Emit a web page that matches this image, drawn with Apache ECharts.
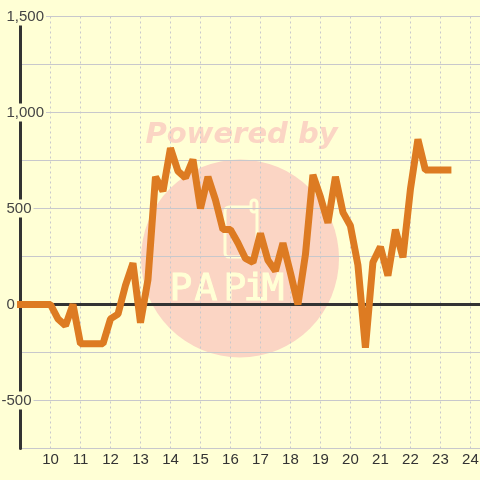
<!DOCTYPE html>
<html>
<head>
<meta charset="utf-8">
<style>html,body{margin:0;padding:0;background:#ffffd5}#main{width:480px;height:480px}</style>
<script src="https://cdn.jsdelivr.net/npm/echarts@6/dist/echarts.min.js"></script>
</head>
<body>
<div id="main"></div>
<script>
var bg = '#ffffd5';
var hours = [9,9.25,9.5,9.75,10,10.25,10.5,10.75,11,11.25,11.5,11.75,12,12.25,12.5,12.75,13,13.25,13.5,13.75,
  14,14.25,14.5,14.75,15,15.25,15.5,15.75,16,16.25,16.5,16.75,17,17.25,17.5,17.75,18,18.25,18.5,18.75,
  19,19.25,19.5,19.75,20,20.25,20.5,20.75,21,21.25,21.5,21.75,22,22.25,22.5,22.75,23,23.25];
var values = [0,0,0,0,0,-75,-110,0,-205,-205,-205,-205,-75,-50,100,215,-95,130,665,590,
  815,695,660,755,500,665,545,390,390,320,240,220,370,230,175,320,165,0,260,675,
  560,425,665,480,410,205,-225,220,300,150,390,245,600,860,700,700,700,700];
var xTicks = [10,11,12,13,14,15,16,17,18,19,20,21,22,23,24];
var logoLetters = ['P','A','P','i','M'];
var logoCenters = [181,206,235,255,273];

var points = [];
for (var i = 0; i < hours.length; i++) {
  points.push([hours[i], values[i]]);
}

var myChart = echarts.init(document.getElementById('main'));
var gridColor = '#c8c8cc';
var wm = '#fbd5c4';

// watermark, sits behind the grid
var marks = [
  {type: 'circle', z: -10, shape: {cx: 240, cy: 258.5, r: 99}, style: {fill: wm}},
  {type: 'text', z: -10, x: 241.5, y: 135, style: {text: 'Powered by', fill: wm, font: 'italic bold 29px "DejaVu Sans"', align: 'center', verticalAlign: 'middle'}},
  {type: 'rect', z: -9, shape: {x: 225, y: 207, width: 32, height: 50, r: 4}, style: {fill: null, stroke: bg, lineWidth: 3}},
  {type: 'rect', z: -9, shape: {x: 251, y: 200, width: 6, height: 12, r: 3}, style: {fill: wm, stroke: bg, lineWidth: 3}}
];
logoLetters.forEach(function (ch, k) {
  marks.push({type: 'text', z: -9, x: logoCenters[k], y: 290, style: {text: ch, fill: bg, stroke: bg, lineWidth: 1, font: '38px "DejaVu Sans Mono"', align: 'center', verticalAlign: 'middle'}});
});

var option = {
  animation: false,
  backgroundColor: bg,
  grid: {left: 20.5, right: 0, top: 16.5, bottom: 31.5, outerBoundsMode: 'none'},
  graphic: marks,
  xAxis: [
    {
      type: 'value', min: 9, max: 24.32, interval: 1,
      axisLine: {onZero: true, lineStyle: {color: '#333', width: 3}},
      axisTick: {show: false},
      axisLabel: {show: false},
      splitLine: {show: true, showMinLine: false, showMaxLine: false, lineStyle: {color: gridColor, type: [2, 3], width: 1}}
    },
    {
      type: 'value', min: 9, max: 24.32, position: 'bottom',
      axisLine: {show: false, onZero: false},
      axisTick: {show: false},
      splitLine: {show: false},
      axisLabel: {
        color: '#333', fontFamily: 'Liberation Sans', fontSize: 15, margin: 4,
        customValues: xTicks
      }
    }
  ],
  yAxis: [
    {
      type: 'value', min: -750, max: 1500, interval: 250,
      axisLine: {show: true, onZero: false, lineStyle: {color: '#333', width: 3}},
      axisTick: {show: false},
      splitLine: {show: true, lineStyle: {color: gridColor, width: 1}},
      axisLabel: {
        inside: true, margin: -14, align: 'left', color: '#444', fontFamily: 'Liberation Sans', fontSize: 15,
        backgroundColor: bg, padding: [3, 2, 0, 0],
        formatter: function (v) {
          if (v % 500 !== 0 || v < 0) return '';
          return echarts.format.addCommas(v);
        }
      }
    },
    {
      // the negative label hangs further left
      type: 'value', min: -750, max: 1500, position: 'left',
      axisLine: {show: false, onZero: false},
      axisTick: {show: false},
      splitLine: {show: false},
      axisLabel: {
        inside: true, margin: -19, align: 'left', color: '#444', fontFamily: 'Liberation Sans', fontSize: 15,
        backgroundColor: bg, padding: [3, 2, 0, 0],
        customValues: [-500]
      }
    }
  ],
  series: [{
    type: 'line', data: points, symbol: 'none', clip: false, z: 5,
    lineStyle: {color: '#dd7b22', width: 7, cap: 'square', join: 'bevel'}
  }]
};
myChart.setOption(option);
</script>
</body>
</html>
